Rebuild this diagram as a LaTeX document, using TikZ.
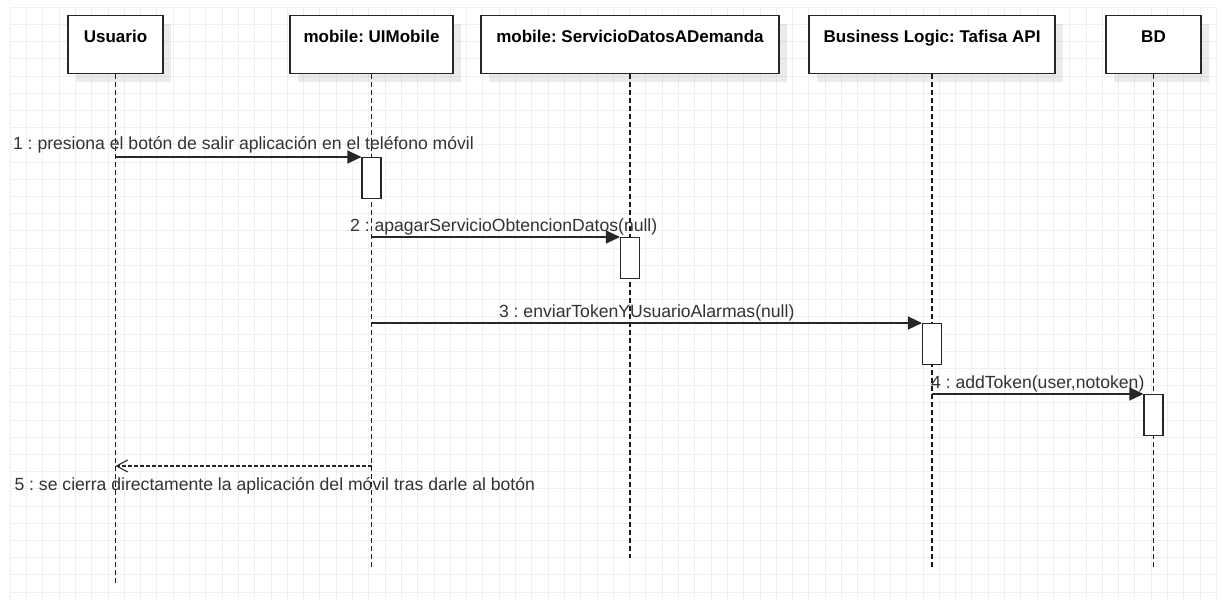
\documentclass[tikz,border=0pt]{standalone}
\usepackage{fontspec}
\setmainfont{Liberation Sans}
\usetikzlibrary{arrows.meta,shadows}
\definecolor{gridc}{HTML}{EFEFEF}
\definecolor{txt}{HTML}{333333}
\frenchspacing
\begin{document}
\begin{tikzpicture}[x=1pt,y=-1pt,
  actor/.style={draw=black!85, line width=1.2pt, fill=white, inner sep=0pt,
    minimum height=58pt, text height=27pt, text depth=31pt,
    font=\fontsize{17}{20}\selectfont\bfseries,
    drop shadow={shadow xshift=8pt, shadow yshift=-8pt, fill=black, opacity=0.08}},
  lifeline/.style={draw=black!90, line width=1.2pt, dash pattern=on 4.5pt off 3.5pt},
  actbox/.style={draw=black!85, line width=1.1pt, fill=white, minimum width=19pt, minimum height=41pt, inner sep=0pt, anchor=north},
  msg/.style={draw=black!85, line width=1.2pt, -{Triangle[length=14pt,width=13pt]}},
  reply/.style={draw=black!85, line width=1.1pt, dash pattern=on 3.5pt off 2.5pt, -{Straight Barb[length=11pt,width=12pt]}},
  mlabel/.style={font=\fontsize{17.6}{20}\selectfont, text=txt, inner sep=0pt, anchor=base}]
% canvas and grid
\fill[white] (0,0) rectangle (1222,606);
\useasboundingbox (0,0) rectangle (1222,606);
\foreach \i in {0,...,74} \draw[gridc, line width=0.6pt] (10+\i*16.3,7) -- (10+\i*16.3,600);
\foreach \j in {0,...,34} \draw[gridc, line width=0.6pt] (10,7+\j*17.2) -- (1217,7+\j*17.2);
% participants
\node[actor, minimum width=95pt, anchor=north] (usr) at (115.5,15) {Usuario};
\node[actor, minimum width=163pt, anchor=north] (ui) at (371.5,15) {mobile: UIMobile};
\node[actor, minimum width=298pt, anchor=north] (srv) at (630,15) {mobile: ServicioDatosADemanda};
\node[actor, minimum width=246pt, anchor=north] (api) at (932,15) {Business Logic: Tafisa API};
\node[actor, minimum width=95pt, anchor=north] (bd) at (1153.5,15) {BD};
% lifeline ends
\coordinate (usrE) at (115.5,583);
\coordinate (uiE) at (371.5,567);
\coordinate (srvE) at (630,558);
\coordinate (apiE) at (932,567);
\coordinate (bdE) at (1153.5,567);
\draw[lifeline] (usr.south) -- (usrE);
\draw[lifeline] (ui.south) -- (uiE);
\draw[lifeline] (srv.south) -- (srvE);
\draw[lifeline] (api.south) -- (apiE);
\draw[lifeline] (bd.south) -- (bdE);
% activations
\node[actbox] (a1) at (371.5,157) {};
\node[actbox] (a2) at (630,237) {};
\node[actbox] (a3) at (932,323) {};
\node[actbox] (a4) at (1153.5,394) {};
\coordinate (y5) at (0,466);
% messages
\draw[msg] (usr |- a1.north west) -- (a1.north west)
  node[mlabel, midway, xshift=5pt, yshift=8pt] {1 : presiona el botón de salir aplicación en el teléfono móvil};
\draw[msg] (ui |- a2.north west) -- (a2.north west)
  node[mlabel, midway, xshift=8pt, yshift=5.5pt] {2 : apagarServicioObtencionDatos(null)};
\draw[msg] (ui |- a3.north west) -- (a3.north west)
  node[mlabel, midway, xshift=0pt, yshift=6pt] {3 : enviarTokenYUsuarioAlarmas(null)};
\draw[msg] (api |- a4.north west) -- (a4.north west)
  node[mlabel, midway, xshift=0pt, yshift=6pt] {4 : addToken(user,notoken)};
\draw[reply] (ui |- y5) -- (usr |- y5)
  node[mlabel, pos=1, anchor=base west, xshift=-101.5pt, yshift=-24pt] {5 : se cierra directamente la aplicación del móvil tras darle al botón};
\end{tikzpicture}
\end{document}
